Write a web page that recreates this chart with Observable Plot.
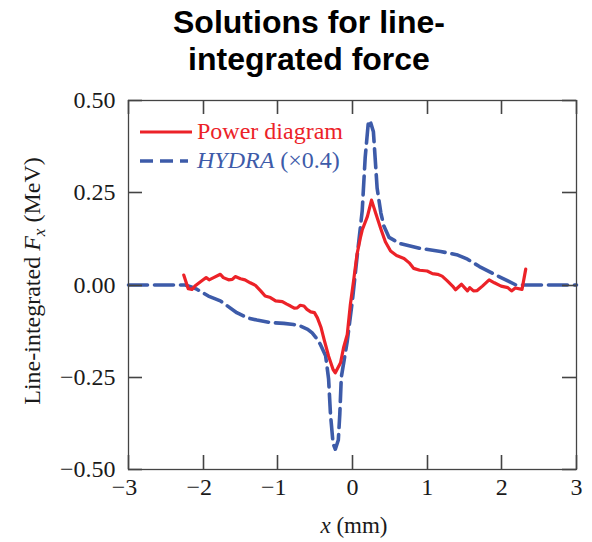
<!DOCTYPE html>
<html>
<head>
<meta charset="utf-8">
<script src="https://cdn.jsdelivr.net/npm/d3@7"></script>
<script src="https://cdn.jsdelivr.net/npm/@observablehq/plot@0.6"></script>
<style>
  body { margin: 0; background: #fff; }
  #fig { position: relative; width: 592px; height: 542px; }
  #title {
    position: absolute; left: 13px; top: 4px; width: 592px;
    text-align: center; color: #000;
    font: bold 32px/37px "Liberation Sans", Arial, sans-serif;
  }
  #fig svg { position: absolute; left: 0; top: 0; }
</style>
</head>
<body>
<div id="fig">
  <div id="title">Solutions for line-<br>integrated force</div>
</div>
<script>
// Axis ticks
const xTicks = [-3, -2, -1, 0, 1, 2, 3];
const yTicks = [-0.5, -0.25, 0, 0.25, 0.5];

// Series names
const seriesNames = ["Power diagram", "HYDRA"];

// Power-diagram solution: position x (mm) and line-integrated Fx (MeV)
const powerX = [-2.26, -2.20, -2.15, -2.11, -2.04, -2.00, -1.96, -1.92, -1.86, -1.77,
  -1.73, -1.66, -1.61, -1.57, -1.50, -1.44, -1.37, -1.30, -1.23, -1.17,
  -1.10, -1.03, -0.94, -0.88, -0.83, -0.78, -0.74, -0.70, -0.65, -0.61,
  -0.56, -0.51, -0.47, -0.42, -0.38, -0.32, -0.26, -0.23, -0.16, -0.12,
  -0.07, -0.03, 0.02, 0.06, 0.11, 0.13, 0.20, 0.255, 0.31, 0.38,
  0.44, 0.51, 0.59, 0.69, 0.76, 0.82, 0.90, 1.00, 1.07, 1.14,
  1.20, 1.27, 1.34, 1.38, 1.46, 1.50, 1.54, 1.57, 1.62, 1.67,
  1.74, 1.83, 1.90, 1.99, 2.08, 2.13, 2.18, 2.27, 2.32];
const powerF = [0.027, -0.010, -0.012, -0.003, 0.008, 0.014, 0.020, 0.014, 0.020, 0.029,
  0.020, 0.014, 0.015, 0.023, 0.017, 0.014, 0.006, -0.001, -0.016, -0.030,
  -0.034, -0.043, -0.045, -0.052, -0.057, -0.063, -0.062, -0.055, -0.057, -0.066,
  -0.073, -0.075, -0.089, -0.116, -0.148, -0.193, -0.229, -0.238, -0.211, -0.170,
  -0.134, -0.055, 0.020, 0.083, 0.132, 0.149, 0.186, 0.230, 0.195, 0.152,
  0.117, 0.092, 0.080, 0.072, 0.060, 0.045, 0.040, 0.038, 0.031, 0.029,
  0.024, 0.011, -0.003, -0.013, 0.002, -0.007, -0.016, -0.007, -0.016, -0.015,
  -0.003, 0.014, 0.006, -0.003, -0.007, -0.016, -0.008, -0.012, 0.043];

// HYDRA solution, already scaled by 0.4
const hydraX = [-3.00, -2.24, -2.15, -2.08, -1.93, -1.77, -1.55, -1.41, -1.28, -1.10,
  -0.92, -0.79, -0.70, -0.60, -0.54, -0.48, -0.43, -0.36, -0.32, -0.295,
  -0.26, -0.23, -0.19, -0.17, -0.15, -0.07, 0.00, 0.06, 0.13, 0.17,
  0.21, 0.235, 0.28, 0.33, 0.38, 0.42, 0.49, 0.64, 0.91, 1.18,
  1.41, 1.54, 1.70, 1.90, 2.08, 2.19, 3.00];
const hydraF = [0, 0, -0.006, -0.012, -0.030, -0.043, -0.075, -0.089, -0.095, -0.102,
  -0.104, -0.107, -0.111, -0.120, -0.130, -0.145, -0.161, -0.192, -0.255, -0.350,
  -0.430, -0.445, -0.420, -0.350, -0.250, -0.152, -0.040, 0.074, 0.201, 0.346,
  0.436, 0.446, 0.415, 0.262, 0.195, 0.160, 0.129, 0.112, 0.099, 0.091,
  0.081, 0.070, 0.050, 0.029, 0.011, 0.000, 0];

const power = powerX.map((x, i) => ({x, f: powerF[i]}));
const hydra = hydraX.map((x, i) => ({x, f: hydraF[i]}));

const RED = "#ec2228";
const BLUE = "#3d5ba9";
const AXIS = "#444";
const serif = '"Liberation Serif", "Times New Roman", Times, serif';
const fmtX = d3.format("d");
const fmtY = d3.format(".2f");

// layout
const W = 592, H = 542;
const M = {top: 100, right: 16, bottom: 73, left: 128};
const TICK = 14;

const plot = Plot.plot({
  width: W,
  height: H,
  marginTop: M.top,
  marginBottom: M.bottom,
  marginLeft: M.left,
  marginRight: M.right,
  style: {fontFamily: serif, fontSize: "24px", background: "transparent", overflow: "visible", color: "#1a1a1a"},
  x: {domain: [-3, 3]},
  y: {domain: [-0.5, 0.5]},
  marks: [
    Plot.line(hydra, {x: "x", y: "f", stroke: BLUE, strokeWidth: 3.6, strokeDasharray: "19,7"}),
    Plot.line(power, {x: "x", y: "f", stroke: RED, strokeWidth: 3.2, strokeLinejoin: "round"}),
    Plot.frame({stroke: AXIS, strokeWidth: 1.3}),
    // tick labels; negative values shifted so the digit sits under its tick
    Plot.axisX(xTicks.filter(d => d < 0), {anchor: "bottom", tickSize: 0, tickPadding: 8, dx: -4, tickFormat: fmtX, label: null, fontSize: 24}),
    Plot.axisX(xTicks.filter(d => d >= 0), {anchor: "bottom", tickSize: 0, tickPadding: 8, tickFormat: fmtX, label: null, fontSize: 24}),
    Plot.axisY(yTicks, {anchor: "left", tickSize: 0, tickPadding: 13, tickFormat: fmtY, label: null, fontSize: 24})
  ]
});

document.getElementById("fig").appendChild(plot);

const svg = d3.select(plot);
const sx = plot.scale("x"), sy = plot.scale("y");
const yBottom = sy.apply(yTicks[0]);
const yTop = sy.apply(yTicks[yTicks.length - 1]);
const xLeft = sx.apply(xTicks[0]);
const xRight = sx.apply(xTicks[xTicks.length - 1]);

// inward tick marks on all four sides, placed with the plot's own scales
const ticks = svg.append("g").attr("stroke", AXIS).attr("stroke-width", 1.6).attr("fill", "none");
for (const v of xTicks) {
  const px = Math.round(sx.apply(v)) + 0.5;
  ticks.append("path").attr("d", `M${px},${yBottom}V${yBottom - TICK}`);
  ticks.append("path").attr("d", `M${px},${yTop}V${yTop + TICK}`);
}
for (const v of yTicks) {
  const py = Math.round(sy.apply(v)) + 0.5;
  ticks.append("path").attr("d", `M${xLeft},${py}H${xLeft + TICK}`);
  ticks.append("path").attr("d", `M${xRight},${py}H${xRight - TICK}`);
}

// axis titles
const xLab = svg.append("text")
  .attr("x", 354).attr("y", 533)
  .attr("text-anchor", "middle")
  .attr("font-family", serif).attr("font-size", 23).attr("fill", "#1a1a1a");
xLab.append("tspan").attr("font-style", "italic").text("x");
xLab.append("tspan").text(" (mm)");

const yLab = svg.append("text")
  .attr("transform", "translate(40,281) rotate(-90)")
  .attr("text-anchor", "middle")
  .attr("font-family", serif).attr("font-size", 24).attr("fill", "#1a1a1a");
yLab.append("tspan").text("Line-integrated ");
yLab.append("tspan").attr("font-style", "italic").text("F");
yLab.append("tspan").attr("font-style", "italic").attr("font-size", 17).attr("dy", 5).text("x");
yLab.append("tspan").attr("dy", -5).text(" (MeV)");

// legend
const legend = svg.append("g")
  .attr("font-family", serif).attr("font-size", 24).attr("text-anchor", "start");
legend.append("line")
  .attr("x1", 140).attr("x2", 192).attr("y1", 132).attr("y2", 132)
  .attr("stroke", RED).attr("stroke-width", 3.2);
legend.append("text")
  .attr("x", 197).attr("y", 139).attr("fill", RED)
  .text(seriesNames[0]);
legend.append("line")
  .attr("x1", 140).attr("x2", 188).attr("y1", 161).attr("y2", 161)
  .attr("stroke", BLUE).attr("stroke-width", 3.6).attr("stroke-dasharray", "13,7");
const hl = legend.append("text").attr("x", 197).attr("y", 168).attr("fill", BLUE);
hl.append("tspan").attr("font-style", "italic").text(seriesNames[1]);
hl.append("tspan").text(" (×0.4)");
</script>
</body>
</html>
